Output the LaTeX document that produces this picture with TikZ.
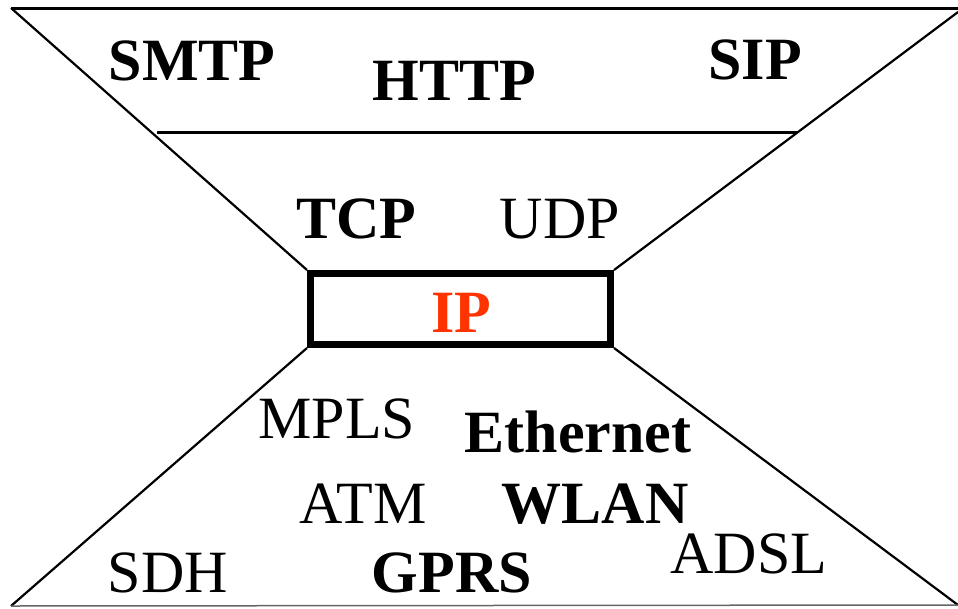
\documentclass[tikz,border=0pt]{standalone}
\usepackage{fontspec}
\setmainfont{Liberation Serif}
\definecolor{ipred}{RGB}{255,51,0}
\begin{document}
\begin{tikzpicture}[x=1pt,y=-1pt,
  lbl/.style={font=\fontsize{60}{60}\selectfont, anchor=base, inner sep=0pt},
  blbl/.style={lbl, font=\fontsize{60}{60}\selectfont\bfseries},
  thin line/.style={line width=2.2pt},
  thick line/.style={line width=3pt}]
\useasboundingbox (0,0) rectangle (958,608);
% frame coordinates
\coordinate (tl) at (11,8);
\coordinate (tr) at (958,8);
\coordinate (trd) at (958,12);
\coordinate (bl) at (11,606);
\coordinate (br) at (958,605);
\coordinate (ml) at (157,132);
\coordinate (mr) at (797,132);
% IP box
\node[draw, line width=7pt, minimum width=300pt, minimum height=71pt, inner sep=0pt] (ipbox) at (460.5,309) {};
\coordinate (bxtl) at (307,270);
\coordinate (bxtr) at (614,270);
\coordinate (bxbl) at (307,348);
\coordinate (bxbr) at (614,348);
% lines
\draw[thick line] (tl) -- (tr);
\draw[thin line] (tl) -- (bxtl);
\draw[thin line] (trd) -- (bxtr);
\draw[thin line] (bxbl) -- (bl);
\draw[thin line] (bxbr) -- (br);
\draw[thick line] (ml) -- (mr);
\draw[line width=1.5pt, black!60] (bl) -- (br);
% texts
\node[blbl] (smtp) at (192,80) {SMTP};
\node[blbl] (http) at (454,100) {HTTP};
\node[blbl] (sip) at (755,79) {SIP};
\node[blbl] (tcp) at (356,238) {TCP};
\node[lbl] (udp) at (560,238) {UDP};
\node[blbl, text=ipred] (ip) at (461,332) {IP};
\node[lbl] (mpls) at (337,438) {MPLS};
\node[blbl] (eth) at (578,452) {Ethernet};
\node[lbl] (atm) at (363,523) {ATM};
\node[blbl] (wlan) at (595,523) {WLAN};
\node[lbl] (sdh) at (168,592) {SDH};
\node[blbl] (gprs) at (452,592) {GPRS};
\node[lbl] (adsl) at (749,573) {ADSL};
\end{tikzpicture}
\end{document}
